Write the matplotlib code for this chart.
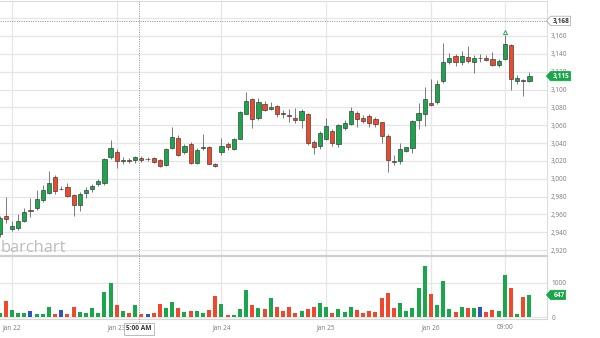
import numpy as np
import matplotlib.pyplot as plt
from matplotlib.patches import Polygon

# hourly bars, oldest first
opens = [2938, 2958, 2944, 2945, 2952, 2964, 2967, 2976, 2984, 3002,
         2988, 2991, 2982, 2970, 2984, 2988, 2994, 2995, 3024, 3030,
         3020, 3021, 3021, 3023, 3022, 3023, 3021, 3015, 3034, 3046,
         3030, 3039, 3018, 3034, 3035, 3017, 3030, 3039, 3033, 3045,
         3073, 3089, 3068, 3084, 3078, 3082, 3074, 3071, 3068, 3066,
         3072, 3041, 3037, 3045, 3054, 3039, 3057, 3061, 3074, 3068,
         3070, 3067, 3063, 3048, 3020, 3020, 3031, 3034, 3066, 3073,
         3085, 3086, 3110, 3131, 3138, 3131, 3136, 3131, 3135, 3135,
         3134, 3128, 3134, 3150, 3109, 3111, 3109]
highs = [2958, 2980, 2952, 2960, 2967, 2978, 2987, 2993, 3009, 3004,
         2992, 2995, 2983, 2985, 2991, 2994, 3000, 3023, 3043, 3033,
         3024, 3023, 3025, 3025, 3024, 3024, 3022, 3034, 3058, 3049,
         3039, 3041, 3034, 3050, 3037, 3018, 3046, 3041, 3046, 3076,
         3097, 3091, 3090, 3087, 3086, 3083, 3077, 3078, 3079, 3078,
         3074, 3043, 3053, 3068, 3056, 3061, 3066, 3080, 3076, 3071,
         3072, 3069, 3064, 3050, 3026, 3040, 3036, 3066, 3085, 3103,
         3112, 3111, 3152, 3141, 3140, 3143, 3149, 3139, 3140, 3139,
         3142, 3134, 3161, 3151, 3116, 3112, 3120]
lows = [2935, 2950, 2941, 2942, 2951, 2957, 2965, 2974, 2983, 2983,
        2987, 2979, 2958, 2964, 2978, 2985, 2992, 2993, 3022, 3012,
        3016, 3018, 3018, 3019, 3020, 3018, 3013, 3014, 3033, 3025,
        3028, 3016, 3017, 3032, 3016, 3013, 3027, 3032, 3032, 3044,
        3072, 3057, 3066, 3076, 3077, 3069, 3068, 3064, 3062, 3057,
        3038, 3028, 3033, 3043, 3037, 3035, 3055, 3060, 3058, 3062,
        3058, 3058, 3040, 3008, 3015, 3017, 3030, 3029, 3056, 3059,
        3081, 3084, 3107, 3129, 3126, 3128, 3130, 3118, 3131, 3132,
        3126, 3125, 3133, 3100, 3106, 3093, 3108]
closes = [2956, 2955, 2947, 2953, 2963, 2964, 2977, 2987, 2995, 2986,
          2988, 2981, 2971, 2983, 2987, 2992, 2997, 3022, 3034, 3020,
          3021, 3020, 3024, 3021, 3022, 3019, 3014, 3033, 3047, 3027,
          3037, 3018, 3032, 3036, 3017, 3014, 3037, 3035, 3044, 3075,
          3087, 3067, 3086, 3077, 3080, 3073, 3072, 3070, 3066, 3076,
          3040, 3036, 3051, 3059, 3040, 3060, 3062, 3076, 3067, 3065,
          3062, 3061, 3048, 3021, 3019, 3033, 3035, 3065, 3074, 3089,
          3083, 3106, 3131, 3135, 3131, 3138, 3132, 3135, 3135, 3133,
          3127, 3132, 3151, 3112, 3113, 3110, 3115]
volumes = [133, 471, 202, 133, 133, 191, 104, 104, 298, 104,
           202, 104, 307, 153, 133, 278, 133, 731, 1000, 355,
           182, 133, 346, 87, 87, 133, 384, 260, 433, 278,
           143, 182, 182, 133, 202, 615, 375, 67, 58, 240,
           789, 346, 260, 231, 548, 289, 182, 289, 116, 192,
           240, 289, 404, 307, 133, 231, 153, 289, 211, 116,
           192, 153, 548, 711, 269, 404, 192, 260, 838, 1483,
           673, 346, 1058, 250, 143, 307, 260, 278, 307, 163,
           202, 173, 1223, 847, 96, 578, 647]

tick_pos = [2, 19, 36, 53, 70, 82]
tick_labels = ["Jan 22", "Jan 23", "Jan 24", "Jan 25", "Jan 26", "09:00"]
price_ticks = list(range(2920, 3161, 20))
vol_ticks = [0, 1000]
cross_x = 22.6
cross_price = 3177
cross_price_text = "3,168"
cross_time_text = "5:00 AM"

GREEN = "#1aa64b"
RED = "#f0482a"
BLUE = "#2b55c2"
GRID = "#e6e6e6"
TXT = "#7a7a7a"

plt.rcParams['font.family'] = ['Open Sans', 'DejaVu Sans']

W, H = 600, 338
fig = plt.figure(figsize=(6, 3.38), dpi=100)


def px_axes(left, top, right, bottom):
    return fig.add_axes([left / W, 1 - bottom / H, (right - left) / W, (bottom - top) / H])


ax = px_axes(0, 1, 547, 255)
axv = px_axes(0, 257, 547, 319)

x = np.arange(len(opens))
o = np.array(opens)
c = np.array(closes)
up = c > o
flat = c == o
colors = np.where(flat, BLUE, np.where(up, GREEN, RED))
body_col = np.where(up, GREEN, RED)

# candles
ax.vlines(x, lows, highs, color="#666666", lw=0.6, zorder=2)
bottoms = np.minimum(o, c)
heights = np.maximum(np.abs(c - o), 0.4)
ax.bar(x, heights, bottom=bottoms, width=0.68, color=body_col,
       edgecolor="#333333", linewidth=0.45, zorder=3)
top = int(np.argmax(highs))
ax.plot(x[top], highs[top] + 3.5, marker="^", ms=3, mfc="none", mec=GREEN, mew=0.6)

ax.set_xlim(0.05, 88.85)
ax.set_ylim(2914.4, 3199.25)
ax.set_yticks(price_ticks)
ax.set_yticklabels([f"{v:,}" for v in price_ticks])
ax.axhline(3180, color=GRID, lw=0.9, zorder=0)
ax.set_xticks(tick_pos)
ax.tick_params(axis="x", labelbottom=False, length=0)
ax.yaxis.tick_right()
ax.tick_params(axis="y", length=0, pad=3, labelsize=4.7, labelcolor=TXT)
ax.grid(True, color=GRID, lw=0.9, zorder=0)
ax.set_axisbelow(True)
for s in ["left", "bottom"]:
    ax.spines[s].set_visible(False)
for s in ["top", "right"]:
    ax.spines[s].set_color("#dddddd")
    ax.spines[s].set_linewidth(0.8)

# volume
axv.bar(x, volumes, width=0.65, color=colors, zorder=3)
axv.set_xlim(0.05, 88.85)
axv.set_ylim(-49, 1743)
axv.set_yticks(vol_ticks)
axv.set_yticklabels([str(v) for v in vol_ticks])
axv.yaxis.tick_right()
axv.set_xticks(tick_pos)
axv.set_xticklabels(tick_labels)
axv.tick_params(axis="both", length=0, labelsize=4.7, labelcolor=TXT)
axv.tick_params(axis="x", pad=3.5)
axv.tick_params(axis="y", pad=3)
axv.grid(True, color=GRID, lw=0.9, zorder=0)
axv.set_axisbelow(True)
for s in ["left", "top"]:
    axv.spines[s].set_visible(False)
for s in ["bottom", "right"]:
    axv.spines[s].set_color("#d6d6d6")
    axv.spines[s].set_linewidth(0.8)

# overlay in pixel coords for tags, crosshair, watermark
ov = fig.add_axes([0, 0, 1, 1], zorder=5)
ov.set_xlim(0, W)
ov.set_ylim(H, 0)
ov.axis("off")
ov.patch.set_alpha(0)


def ypix(axis, val):
    return H - axis.transData.transform((0, val))[1]


def xpix(axis, val):
    return axis.transData.transform((val, 0))[0]


ov.plot([0, 547], [256, 256], color="#cfcfcf", lw=1.6)
ov.text(0.5, 251.7, "barchart", fontsize=11.8, color="#bdbdbd", va="baseline", ha="left")

cx = xpix(ax, cross_x)
cy = ypix(ax, cross_price)
ov.plot([cx, cx], [1, 325], color="#a0a0a0", lw=0.7, ls=(0, (1.2, 1.2)))
ov.plot([0, 547], [cy, cy], color="#a0a0a0", lw=0.7, ls=(0, (1.2, 1.2)))


def tag(y, text, face, edge, color, width, weight="normal"):
    x0 = 546.5
    pts = [(x0, y), (x0 + 4, y - 4.6), (x0 + width, y - 4.6),
           (x0 + width, y + 4.6), (x0 + 4, y + 4.6)]
    ov.add_patch(Polygon(pts, closed=True, fc=face, ec=edge, lw=0.6))
    ov.text(x0 + 3 + width / 2, y + 0.3, text, ha="center", va="center",
            fontsize=4.7, color=color, fontweight=weight)


tag(cy, cross_price_text, "white", "#b0b0b0", "#333333", 24, "bold")
tag(ypix(ax, closes[-1]), f"{closes[-1]:,}", GREEN, GREEN, "white", 24, "bold")
tag(ypix(axv, volumes[-1]), str(volumes[-1]), GREEN, GREEN, "white", 19, "bold")

ov.text(cx, 328.8, cross_time_text, ha="center", va="center", fontsize=4.7,
        color="#333333", fontweight="bold",
        bbox=dict(boxstyle="square,pad=0.35", fc="white", ec="#b0b0b0", lw=0.6))

fig.savefig("out.png", dpi=100)
